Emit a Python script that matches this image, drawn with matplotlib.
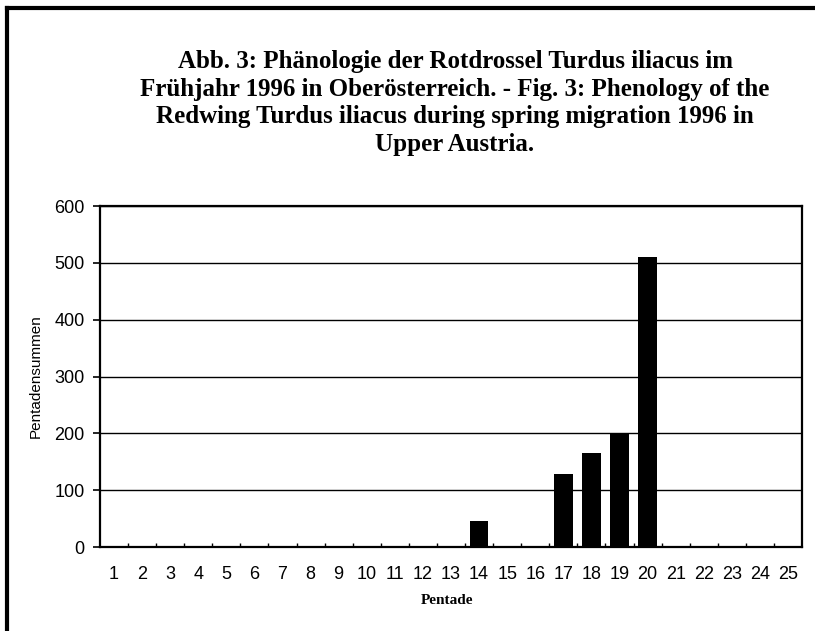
# Phaenologie der Rotdrossel 1996 - bar chart
import matplotlib.pyplot as plt
from matplotlib.lines import Line2D

# pentade numbers and pentade sums
pentade = list(range(1, 26))
summen = [0, 0, 0, 0, 0, 0, 0, 0, 0, 0, 0, 0, 0, 45, 0, 0,
          128, 165, 200, 510, 2, 2, 0, 0, 0]
yticks = [0, 100, 200, 300, 400, 500, 600]

title = ("Abb. 3: Phänologie der Rotdrossel Turdus iliacus im\n"
         "Frühjahr 1996 in Oberösterreich. - Fig. 3: Phenology of the\n"
         "Redwing Turdus iliacus during spring migration 1996 in\n"
         "Upper Austria.")

fig = plt.figure(figsize=(8.15, 6.31), dpi=100)
ax = fig.add_axes([100 / 815, 1 - 547 / 631, 702 / 815, 341 / 631])

# bars
ax.bar(pentade, summen, width=0.66, color='black', zorder=3)

# axis limits and grid
ax.set_xlim(0.5, 25.5)
ax.set_ylim(0, 600)
ax.set_yticks(yticks)
ax.yaxis.grid(True, color='black', linewidth=1.0, zorder=1)
ax.set_axisbelow(True)

ax.set_xticks(pentade)
ax.set_xticklabels([str(p) for p in pentade], family='Liberation Sans',
                   fontsize=13)
ax.set_yticklabels([str(v) for v in yticks], family='Liberation Sans',
                   fontsize=13)
ax.tick_params(axis='x', length=0, pad=14)
ax.tick_params(axis='y', length=5, width=1.2, pad=6)

# small marks between the categories, inside the axis
ax.set_xticks([p + 0.5 for p in pentade[:-1]], minor=True)
ax.tick_params(axis='x', which='minor', direction='in', length=3, width=1)

for s in ax.spines.values():
    s.set_linewidth(1.6)
    s.set_color('black')

# axis labels
ax.set_ylabel("Pentadensummen", family='Liberation Sans', fontsize=11,
              labelpad=8)
fig.text(447 / 815, 1 - 600 / 631, "Pentade", family='Liberation Serif',
         fontweight='bold', fontsize=11, ha='center', va='center')

# chart title
fig.text(455 / 815, 1 - 103 / 631, title, family='Liberation Serif',
         fontweight='bold', fontsize=18, ha='center', va='center',
         linespacing=1.27)

# outer frame (top and left edge of the scanned box)
fig.add_artist(Line2D([7 / 815, 1], [1 - 8 / 631, 1 - 8 / 631],
                      color='black', linewidth=3, transform=fig.transFigure))
fig.add_artist(Line2D([7 / 815, 7 / 815], [0, 1 - 8 / 631],
                      color='black', linewidth=3, transform=fig.transFigure))

plt.savefig("out.png", dpi=100)
